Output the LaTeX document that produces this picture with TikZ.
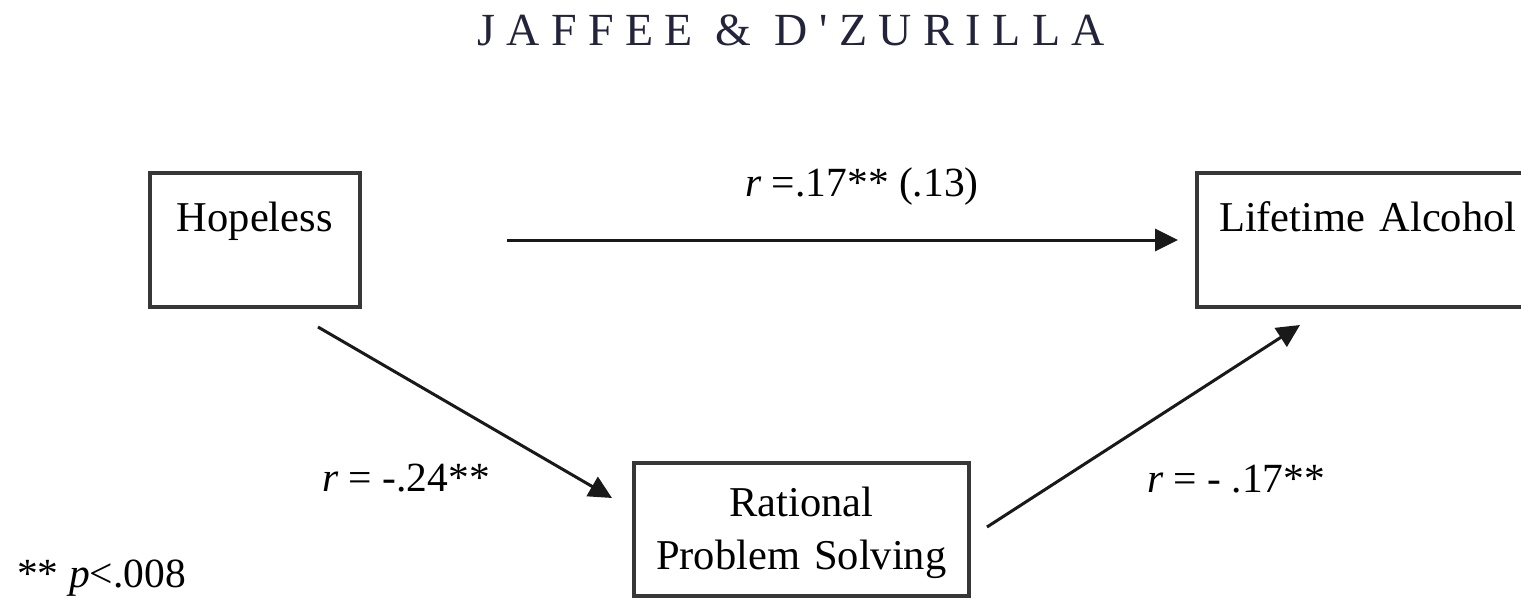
\documentclass[tikz,border=0pt]{standalone}
\usepackage{fontspec}
\setmainfont{Liberation Serif}
\newfontfamily\titlefont[LetterSpace=25]{Liberation Serif}
\usetikzlibrary{arrows.meta}
\definecolor{boxgray}{RGB}{55,55,55}
\definecolor{titlecol}{RGB}{35,35,60}
\tikzset{
  varbox/.style={draw=boxgray, line width=3.5pt, inner sep=0pt, align=center,
    font={\fontsize{42.5}{53}\selectfont}},
  path/.style={draw=black!90, line width=3pt, -{Triangle[length=23pt,width=22pt]}},
  lab/.style={anchor=base west, inner sep=0pt, font={\fontsize{41.5}{49}\selectfont}}
}
\begin{document}
\begin{tikzpicture}[x=1pt,y=-1pt]
\useasboundingbox (0,0) rectangle (1521,602);
\clip (0,0) rectangle (1521,602);
\node[anchor=base, inner sep=0pt, text=titlecol, font={\titlefont\fontsize{46}{54}\selectfont}] (title) at (791,46) {JAFFEE \& D'ZURILLA};
\node[varbox, text width=210pt, text height=59pt, text depth=75pt, anchor=north west] (hop) at (148,171) {Hopeless};
\node[varbox, text width=342pt, text height=59pt, text depth=75pt, anchor=north west] (alc) at (1195,171) {Lifetime Alcohol};
\node[varbox, text width=335pt, text height=54pt, text depth=79pt, anchor=north west] (rps) at (632,461) {Rational\\Problem Solving};
\coordinate (h1) at (507,240);
\coordinate (h2) at (1178,240);
\coordinate (d1) at (318,327);
\coordinate (d2) at (612,498);
\coordinate (e1) at (987,527);
\coordinate (e2) at (1300,325);
\draw[path] (h1) -- (h2);
\draw[path] (d1) -- (d2);
\draw[path] (e1) -- (e2);
\node[lab, anchor=base] (l1) at (862,196) {\textit{r} =.17** (.13)};
\node[lab] (l2) at (322,491) {\textit{r} = -.24**};
\node[lab] (l3) at (1147,492) {\textit{r} = - .17**};
\node[lab] (note) at (17,587) {** \textit{p}<.008};
\end{tikzpicture}
\end{document}
